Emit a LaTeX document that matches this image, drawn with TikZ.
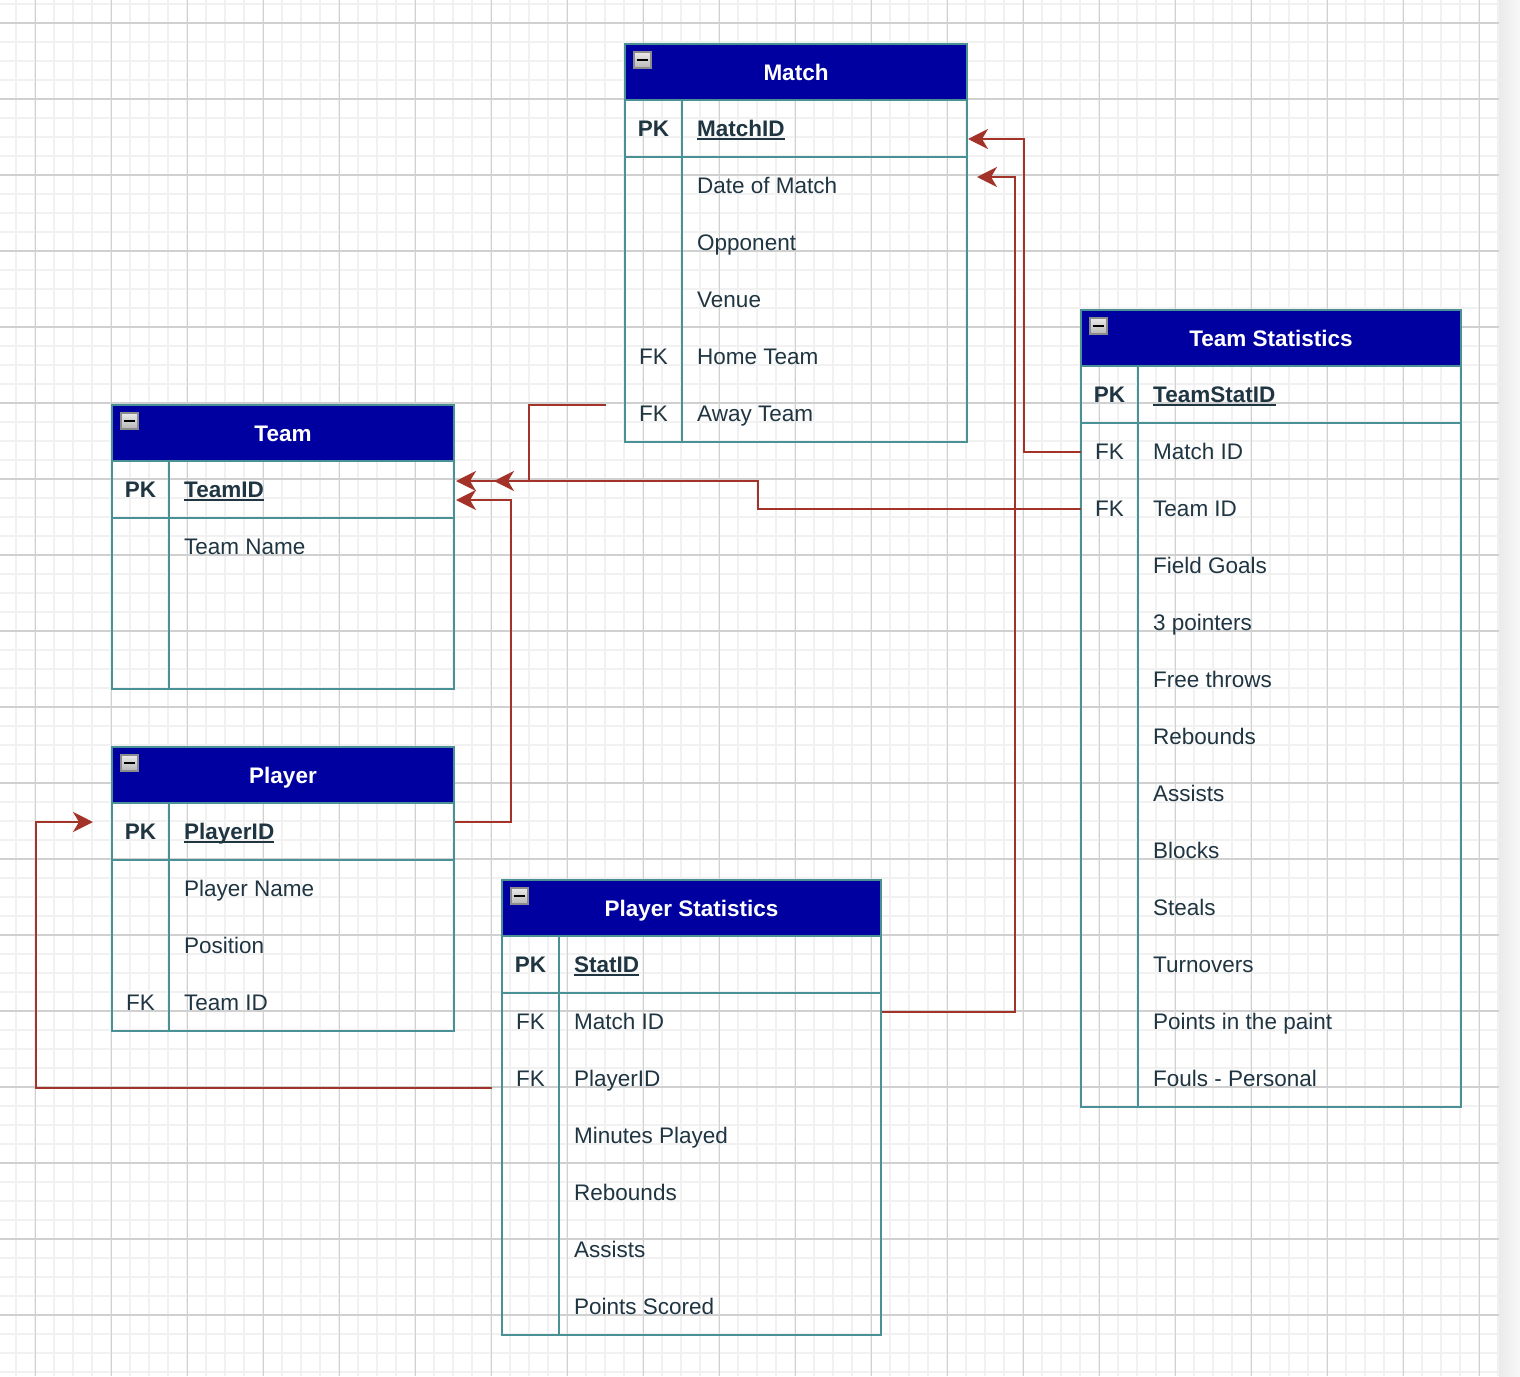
\documentclass[tikz,border=0pt]{standalone}
\usepackage{fontspec}
\setmainfont{Liberation Sans}
\usetikzlibrary{arrows.meta}

\definecolor{hdrblue}{HTML}{0000A0}
\definecolor{tealb}{HTML}{4A9196}
\definecolor{txt}{HTML}{1F3542}
\definecolor{fkred}{HTML}{A33228}
\definecolor{gmaj}{HTML}{D0D0D0}
\definecolor{gmin}{HTML}{F1F1F1}
\definecolor{icongray}{HTML}{8C8C8C}

\newcommand\erfont{\fontsize{22.5}{27}\selectfont}

\tikzset{
  gminor/.style={draw=gmin, line width=2pt},
  gmajor/.style={draw=gmaj, line width=1.2pt},
  tline/.style={draw=tealb, line width=2pt},
  tbl/.style={rectangle, draw=tealb, line width=2pt, inner sep=0pt, outer sep=0pt},
  hdr/.style={tbl, fill=hdrblue},
  hdrtxt/.style={text=white, font=\erfont\bfseries, inner sep=0pt},
  icon/.style={rectangle, draw=icongray, line width=1.5pt, top color=white!92!black,
    bottom color=white!72!black, minimum width=17pt, minimum height=16pt, inner sep=0pt},
  keytxt/.style={text=txt, font=\erfont, inner sep=0pt, anchor=base},
  rowtxt/.style={text=txt, font=\erfont, inner sep=0pt, anchor=base west},
  uline/.style={draw=txt, line width=1.8pt},
  fk/.style={draw=fkred, line width=2pt,
    -{Stealth[length=20pt, width=20pt, inset=6pt]}},
}

% table frame: id, left, top, width, height, title
\newcommand\erTable[6]{%
  \node[tbl, anchor=north west, minimum width=#4pt, minimum height=#5pt] (#1) at (#2,#3) {};
  \node[hdr, anchor=north west, minimum width=#4pt, minimum height=56pt] (#1-h) at (#2,#3) {};
  \node[hdrtxt, anchor=base] (#1-t) at ({#2+#4/2},{#3+36}) {#6};
  \node[icon, anchor=north west] (#1-i) at ({#2+8},{#3+7}) {};
  \draw[line width=2.4pt] ([xshift=3.5pt]#1-i.west) -- ([xshift=-3.5pt]#1-i.east);
  \draw[tline] ({#2+57},{#3+56}) -- ({#2+57},{#3+#5});
  \draw[tline] (#2,{#3+113}) -- ({#2+#4},{#3+113});
}
% primary key row: id, left, top, field
\newcommand\erKey[4]{%
  \node[keytxt, font=\erfont\bfseries] (#1-k0) at ({#2+28.5},{#3+92.5}) {PK};
  \node[rowtxt, font=\erfont\bfseries] (#1-r0) at ({#2+72},{#3+92.5}) {#4};
  \draw[uline] ([yshift=-2.5pt]#1-r0.base west) -- ([yshift=-2.5pt]#1-r0.base east);
}
% ordinary row: id, left, top, index, key, field
\newcommand\erRow[6]{%
  \node[keytxt] (#1-k#4) at ({#2+28.5},{#3+92.5+57*#4}) {#5};
  \node[rowtxt] (#1-r#4) at ({#2+72},{#3+92.5+57*#4}) {#6};
}

\begin{document}
\begin{tikzpicture}[x=1pt, y=-1pt]
\useasboundingbox (0,0) rectangle (1520,1376);
\fill[white] (0,0) rectangle (1520,1376);
\shade[left color=black!8, right color=black!3] (1499,0) rectangle (1520,1376);

% background grid
\foreach \k in {0,...,78} \draw[gminor] ({16.3+19*\k},0) -- ({16.3+19*\k},1376);
\foreach \k in {0,...,72} \draw[gminor] (0,{4+19*\k}) -- (1499,{4+19*\k});
\foreach \k in {0,...,19} \draw[gmajor] ({35.3+76*\k},0) -- ({35.3+76*\k},1376);
\foreach \k in {0,...,17} \draw[gmajor] (0,{23+76*\k}) -- (1499,{23+76*\k});

% Match
\erTable{match}{625}{44}{342}{398}{Match}
\erKey{match}{625}{44}{MatchID}
\erRow{match}{625}{44}{1}{}{Date of Match}
\erRow{match}{625}{44}{2}{}{Opponent}
\erRow{match}{625}{44}{3}{}{Venue}
\erRow{match}{625}{44}{4}{FK}{Home Team}
\erRow{match}{625}{44}{5}{FK}{Away Team}

% Team
\erTable{team}{112}{405}{342}{284}{Team}
\erKey{team}{112}{405}{TeamID}
\erRow{team}{112}{405}{1}{}{Team Name}

% Player
\erTable{player}{112}{747}{342}{284}{Player}
\erKey{player}{112}{747}{PlayerID}
\erRow{player}{112}{747}{1}{}{Player Name}
\erRow{player}{112}{747}{2}{}{Position}
\erRow{player}{112}{747}{3}{FK}{Team ID}

% Player Statistics
\erTable{pstats}{502}{880}{379}{455}{Player Statistics}
\erKey{pstats}{502}{880}{StatID}
\erRow{pstats}{502}{880}{1}{FK}{Match ID}
\erRow{pstats}{502}{880}{2}{FK}{PlayerID}
\erRow{pstats}{502}{880}{3}{}{Minutes Played}
\erRow{pstats}{502}{880}{4}{}{Rebounds}
\erRow{pstats}{502}{880}{5}{}{Assists}
\erRow{pstats}{502}{880}{6}{}{Points Scored}

% Team Statistics
\erTable{tstats}{1081}{310}{380}{797}{Team Statistics}
\erKey{tstats}{1081}{310}{TeamStatID}
\erRow{tstats}{1081}{310}{1}{FK}{Match ID}
\erRow{tstats}{1081}{310}{2}{FK}{Team ID}
\erRow{tstats}{1081}{310}{3}{}{Field Goals}
\erRow{tstats}{1081}{310}{4}{}{3 pointers}
\erRow{tstats}{1081}{310}{5}{}{Free throws}
\erRow{tstats}{1081}{310}{6}{}{Rebounds}
\erRow{tstats}{1081}{310}{7}{}{Assists}
\erRow{tstats}{1081}{310}{8}{}{Blocks}
\erRow{tstats}{1081}{310}{9}{}{Steals}
\erRow{tstats}{1081}{310}{10}{}{Turnovers}
\erRow{tstats}{1081}{310}{11}{}{Points in the paint}
\erRow{tstats}{1081}{310}{12}{}{Fouls - Personal}

% connector end points
\coordinate (match-away-out) at (606,405);
\coordinate (team-in-a) at (494,481);
\coordinate (team-in-b) at (456,481);
\coordinate (team-in-c) at (456,500);
\coordinate (tstats-team-out) at (1081,509);
\coordinate (tstats-match-out) at (1081,452);
\coordinate (match-in-a) at (968,139);
\coordinate (match-in-b) at (977,177);
\coordinate (player-pk-out) at (455,822);
\coordinate (pstats-match-out) at (882,1012);
\coordinate (pstats-player-out) at (492,1088);
\coordinate (player-in) at (93,822);

% foreign key connectors
\draw[fk] (match-away-out) -| (529,481) -- (team-in-a);
\draw[fk] (tstats-team-out) -| (758,481) -- (team-in-b);
\draw[fk] (player-pk-out) -| (511,500) -- (team-in-c);
\draw[fk] (tstats-match-out) -| (1024,139) -- (match-in-a);
\draw[fk] (pstats-match-out) -| (1015,177) -- (match-in-b);
\draw[fk] (pstats-player-out) -| (36,822) -- (player-in);
\end{tikzpicture}
\end{document}
